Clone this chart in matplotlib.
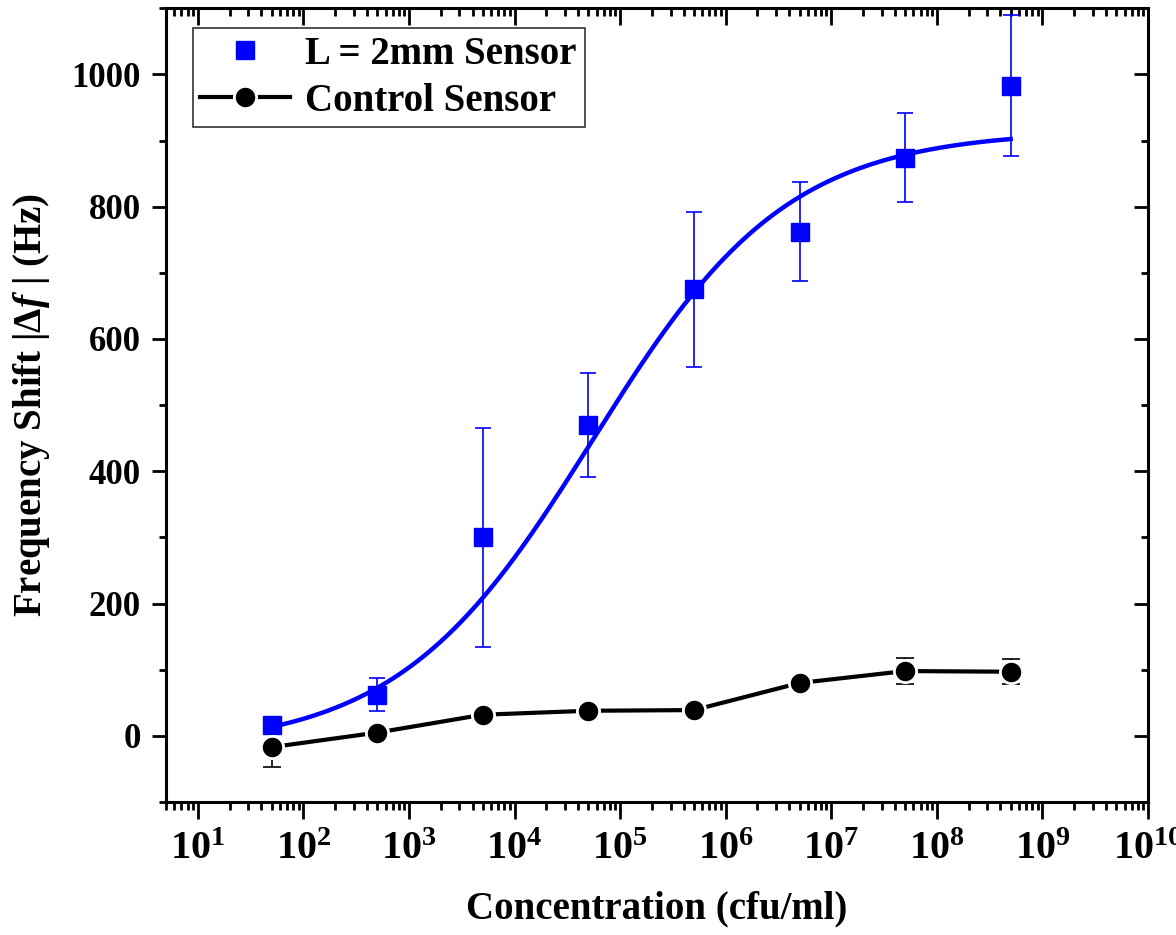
import numpy as np
import matplotlib
matplotlib.use("Agg")
import matplotlib.pyplot as plt
from matplotlib.ticker import LogLocator, MultipleLocator, NullFormatter

# concentrations (cfu/ml)
conc = [5e1, 5e2, 5e3, 5e4, 5e5, 5e6, 5e7, 5e8]

# L = 2mm sensor
sensor_shift = [17, 62, 300, 470, 675, 762, 874, 983]
sensor_err = [8, 25, 165, 78, 117, 75, 67, 107]

# control sensor
control_shift = [-17, 5, 32, 38, 39, 80, 98, 97]
control_err = [30, 5, 4, 4, 4, 5, 19, 19]

# logistic fit of the sensor data: A1, A2, x0, p
fit_A1, fit_A2, fit_x0, fit_p = -20.0, 915.0, 5.5e4, 0.47

# x tick decades
decades = [1, 2, 3, 4, 5, 6, 7, 8, 9, 10]

plt.rcParams["font.family"] = ["Liberation Serif", "DejaVu Serif"]
plt.rcParams["font.weight"] = "bold"
plt.rcParams["mathtext.fontset"] = "custom"
plt.rcParams["mathtext.rm"] = "Liberation Serif:bold"
plt.rcParams["mathtext.bf"] = "Liberation Serif:bold"
plt.rcParams["mathtext.it"] = "Liberation Serif:italic:bold"

fig = plt.figure(figsize=(11.76, 9.35), dpi=100)
ax = fig.add_axes([0.1412, 0.1422, 0.835, 0.849])

xfit = np.logspace(np.log10(conc[0]), np.log10(conc[-1]), 300)
yfit = fit_A2 + (fit_A1 - fit_A2) / (1 + (xfit / fit_x0) ** fit_p)
ax.plot(xfit, yfit, color="#0000ff", lw=3.2, zorder=3)

ax.errorbar(conc, sensor_shift, yerr=sensor_err, fmt="none", ecolor="#0000ff",
            elinewidth=1.2, capsize=6, capthick=1.2, zorder=2)
ax.plot(conc, sensor_shift, "s", color="#0000ff", ms=13.5, mec="#0000ff", zorder=4,
        label="L = 2mm Sensor")

ax.errorbar(conc, control_shift, yerr=control_err, fmt="none", ecolor="black",
            elinewidth=1.2, capsize=6.5, capthick=1.2, zorder=2)
ax.plot(conc, control_shift, "-o", color="black", lw=3, ms=16, mec="white", mew=2,
        zorder=4, label="Control Sensor")

ax.set_xscale("log")
ax.set_xlim(5, 1e10)
ax.set_ylim(-100, 1100)
ax.set_xticks([10.0 ** d for d in decades])
ax.set_xticklabels([r"$\mathdefault{10^{%d}}$" % d for d in decades])
ax.xaxis.set_minor_locator(LogLocator(base=10, subs=np.arange(2, 10), numticks=20))
ax.xaxis.set_minor_formatter(NullFormatter())
ax.yaxis.set_major_locator(MultipleLocator(200))
ax.yaxis.set_minor_locator(MultipleLocator(100))

for s in ax.spines.values():
    s.set_linewidth(2.2)

ax.tick_params(which="both", width=2, direction="out", top=True, right=True)
ax.tick_params(axis="y", which="major", length=10, labelsize=25, pad=8)
ax.tick_params(axis="y", which="minor", length=5)
ax.tick_params(axis="x", which="major", length=12, labelsize=29, pad=9)
ax.tick_params(axis="x", which="minor", length=6)
# origin style: inward ticks on top and right
for t in ax.xaxis.get_ticklines(minor=False)[1::2] + ax.xaxis.get_ticklines(minor=True)[1::2]:
    t.set_marker(matplotlib.lines.TICKDOWN)
for t in ax.yaxis.get_ticklines(minor=False)[1::2] + ax.yaxis.get_ticklines(minor=True)[1::2]:
    t.set_marker(matplotlib.lines.TICKLEFT)

ax.set_xlabel("Concentration (cfu/ml)", fontsize=28, fontweight="bold", labelpad=16)
ax.set_ylabel(r"Frequency Shift |Δ$\mathit{f}$ | (Hz)", fontsize=28, fontweight="bold", labelpad=14)

leg = ax.legend(loc="upper left", fontsize=28, frameon=True, fancybox=False,
                edgecolor="black", handlelength=2.3, borderpad=0.2,
                labelspacing=0.25, handletextpad=0.4, borderaxespad=0,
                bbox_to_anchor=(0.027, 0.975))
leg.get_frame().set_linewidth(1.2)
for txt in leg.get_texts():
    txt.set_fontweight("bold")

fig.savefig("out.png", dpi=100)
